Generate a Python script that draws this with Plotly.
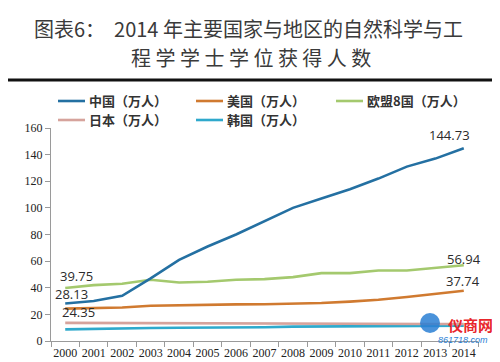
import plotly.graph_objects as go

years = [str(y) for y in range(2000, 2015)]
china = [28.13, 30, 34, 47, 61, 71, 80, 90, 100, 107, 114, 122, 131, 137, 144.73]
usa = [24.35, 24.6, 25.2, 26.5, 27, 27.2, 27.5, 27.6, 28, 28.6, 29.6, 31, 33, 35.5, 37.74]
eu8 = [39.75, 42, 43, 46, 44, 44.5, 46, 46.5, 48, 51, 51, 53, 53, 55, 56.94]
japan = [13.6, 13.5, 13.5, 13.4, 13.3, 13.3, 13.2, 13.2, 13.1, 13.0, 13.0, 12.9, 12.9, 12.8, 12.8]
korea = [8.7, 9.2, 9.5, 9.8, 10.0, 10.0, 10.1, 10.3, 10.8, 11.0, 11.0, 11.2, 11.3, 11.4, 11.5]

names = ["中国（万人）", "美国（万人）", "欧盟8国（万人）", "日本（万人）", "韩国（万人）"]
colors = ["#2470a2", "#d07a30", "#a4c96e", "#d6a39c", "#2fa9cc"]
series = [china, usa, eu8, japan, korea]

fig = go.Figure()
order = [4, 3, 1, 2, 0]
for i in order:
    fig.add_trace(go.Scatter(x=years, y=series[i], mode="lines", name=names[i],
                             line=dict(color=colors[i], width=2.6), showlegend=False,
                             hoverinfo="skip"))

W, H = 500, 362
ml, mr, mt, mb = 43, 30, 120, 29
pw, ph = W - ml - mr, H - mt - mb


def px(x):
    return (x - ml) / pw


def py(y):
    return (H - mb - y) / ph


shapes = []
annotations = []

leg_items = [(0, 50, 93), (1, 188, 93), (2, 328, 93), (3, 50, 112), (4, 188, 112)]
for idx, lx, ly in leg_items:
    shapes.append(dict(type="line", xref="paper", yref="paper", x0=px(lx), x1=px(lx + 27),
                       y0=py(ly), y1=py(ly), line=dict(color=colors[idx], width=2.6)))
    annotations.append(dict(xref="paper", yref="paper", x=px(lx + 29), y=py(ly), text="<b>" + names[idx] + "</b>",
                            showarrow=False, xanchor="left", yanchor="middle",
                            font=dict(family="Noto Sans CJK SC", size=13, color="#333333")))

# title
annotations.append(dict(xref="paper", yref="paper", x=px(240), y=py(20),
                        text="图表6：  2014 年主要国家与地区的自然科学与工",
                        showarrow=False, xanchor="center", yanchor="middle",
                        font=dict(family="Noto Sans CJK SC", size=20, color="#3a3a3a")))
annotations.append(dict(xref="paper", yref="paper", x=px(243), y=py(50),
                        text="程 学 学 士 学 位 获 得 人 数",
                        showarrow=False, xanchor="center", yanchor="middle",
                        font=dict(family="Noto Sans CJK SC", size=20, color="#3a3a3a")))
# rules
shapes.append(dict(type="line", xref="paper", yref="paper", x0=px(0), x1=px(490),
                   y0=py(72), y1=py(72), line=dict(color="#111111", width=3)))
shapes.append(dict(type="line", xref="paper", yref="paper", x0=px(0), x1=px(490),
                   y0=py(359), y1=py(359), line=dict(color="#111111", width=3)))

# data labels (category axis: positions given by category index)
last = len(years) - 1
lab_font = dict(family="Open Sans", size=13, color="#2b2b2b")
labels = [
    (last, china[-1], "144.73", -14, 13),
    (last, eu8[-1], "56.94", 0, 6),
    (last, usa[-1], "37.74", -1, 10),
    (0, eu8[0], "39.75", 11, 12),
    (0, china[0], "28.13", 6, 10),
    (0, usa[0], "24.35", 13, -3),
]
for xv, yv, t, xs, ys in labels:
    annotations.append(dict(x=xv, y=yv, xref="x", yref="y", text=t, showarrow=False,
                            xanchor="center", yanchor="middle", xshift=xs, yshift=ys,
                            font=lab_font))

# watermark
shapes.append(dict(type="circle", xref="paper", yref="paper", x0=px(412), x1=px(432),
                   y0=py(325), y1=py(305), fillcolor="#2a7fd4", line=dict(width=0), opacity=0.85))
annotations.append(dict(xref="paper", yref="paper", x=px(462), y=py(316), text="<b>仪商网</b>",
                        showarrow=False, xanchor="center", yanchor="middle",
                        font=dict(family="Noto Sans CJK SC", size=15, color="#e8262b")))
annotations.append(dict(xref="paper", yref="paper", x=px(455), y=py(332), text="<i>861718.com</i>",
                        showarrow=False, xanchor="center", yanchor="middle",
                        font=dict(family="Liberation Sans", size=9, color="#2a7fd4")))

fig.update_layout(
    width=W, height=H,
    margin=dict(l=ml, r=mr, t=mt, b=mb),
    paper_bgcolor="white", plot_bgcolor="white",
    shapes=shapes, annotations=annotations,
    showlegend=False,
    xaxis=dict(type="category", range=[-0.5, 14.5], showgrid=False, zeroline=False,
               automargin=False, tickangle=0,
               showline=True, linecolor="#9a9a9a", linewidth=1.2,
               ticks="outside", tickson="boundaries", ticklen=5, tickcolor="#9a9a9a",
               tickfont=dict(family="Liberation Serif", size=12, color="#222222")),
    yaxis=dict(range=[0, 160], dtick=20, showgrid=False, zeroline=False,
               automargin=False,
               showline=True, linecolor="#9a9a9a", linewidth=1.2,
               ticks="outside", ticklen=5, tickcolor="#9a9a9a",
               tickfont=dict(family="Liberation Serif", size=12, color="#222222")),
)

fig.write_html("out.html")
